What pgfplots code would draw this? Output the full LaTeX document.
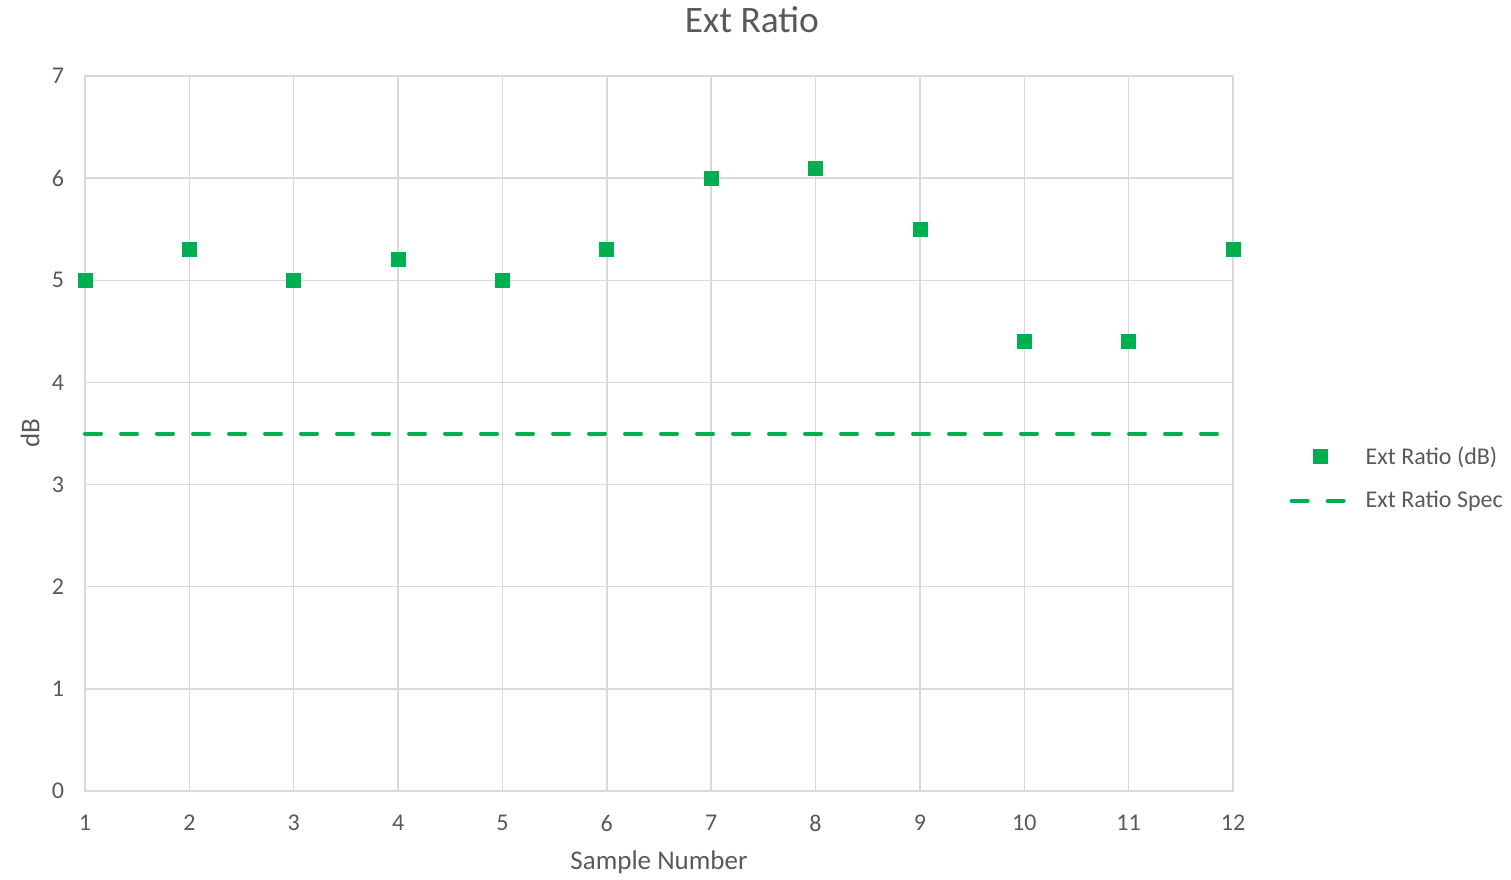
\documentclass[border=0pt]{standalone}
\usepackage{fontspec}
\setmainfont{Carlito}
\usepackage{pgfplots}
\pgfplotsset{compat=1.18}
\definecolor{xlgreen}{HTML}{00B050}
\definecolor{txtgray}{HTML}{595959}
\definecolor{gridgray}{HTML}{D9D9D9}
\begin{document}
\begin{tikzpicture}
\useasboundingbox (-42.5pt,-44pt) rectangle ++(755.5pt,439.5pt);
\begin{axis}[
  at={(0pt,0pt)}, anchor=south west,
  scale only axis,
  width=574pt, height=357.5pt,
  xmin=1, xmax=12, ymin=0, ymax=7,
  xtick={1,...,12}, ytick={0,...,7},
  major tick length=0pt,
  grid=major,
  grid style={gridgray, line width=0.75pt},
  axis line style={gridgray, line width=0.75pt},
  /pgf/number format/assume math mode=true,
  tick label style={font=\fontsize{12}{14}\selectfont, text=txtgray},
  xticklabel style={yshift=-8.5pt},
  yticklabel style={xshift=-7pt},
  xlabel={Sample Number},
  ylabel={dB},
  label style={font=\fontsize{13.5}{16}\selectfont, text=txtgray},
  xlabel style={at={(0.5,0)}, anchor=center, yshift=-35.5pt},
  ylabel style={at={(0,0.5)}, anchor=center, yshift=27.5pt},
  title={Ext Ratio},
  title style={font=\fontsize{18.7}{22}\selectfont, text=txtgray, at={(0.581,1)}, anchor=center, yshift=22pt},
  legend style={draw=none, fill=none, inner sep=0pt, at={(1.049,0.437)}, anchor=west,
    font=\fontsize{12}{14}\selectfont, text=txtgray, row sep=12pt, column sep=7pt,
    nodes={inner sep=0pt}},
  legend cell align=left,
  legend image code/.code={\draw[mark repeat=2,mark phase=2,#1] plot coordinates {(0pt,0pt) (14.5pt,0pt) (29pt,0pt)};},
  clip=false,
]
\addplot[only marks, mark=square*, mark size=3.5pt, color=xlgreen] coordinates {
(1,5.0) (2,5.3) (3,5.0) (4,5.2) (5,5.0) (6,5.3) (7,6.0) (8,6.1) (9,5.5) (10,4.4) (11,4.4) (12,5.3)
};
\addlegendentry{Ext Ratio (dB)}
\addplot[color=xlgreen, line width=2pt, line cap=round, dash pattern=on 8pt off 10pt] coordinates {
(1,3.5) (2,3.5) (3,3.5) (4,3.5) (5,3.5) (6,3.5) (7,3.5) (8,3.5) (9,3.5) (10,3.5) (11,3.5) (12,3.5)
};
\addlegendentry{Ext Ratio Spec}
\end{axis}
\end{tikzpicture}
\end{document}
